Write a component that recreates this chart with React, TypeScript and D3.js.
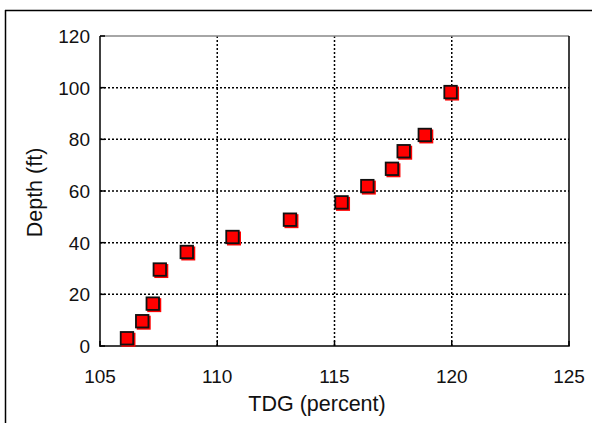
import React from "react";
import * as d3 from "d3";

const tdg = [106.15, 106.8, 107.25, 107.55, 108.7, 110.65, 113.1, 115.3, 116.4, 117.45, 117.95, 118.85, 119.95];
const depth = [3, 9.6, 16.4, 29.6, 36.4, 42.2, 48.9, 55.6, 61.9, 68.6, 75.4, 81.7, 98.3];
const xTicks = [105, 110, 115, 120, 125];
const yTicks = [0, 20, 40, 60, 80, 100, 120];
const xTitle = "TDG (percent)";
const yTitle = "Depth (ft)";

export default function App() {
  const W = 592, H = 423;
  const L = 100, R = 569, T = 36, B = 346;
  const x = d3.scaleLinear().domain([105, 125]).range([L, R]);
  const y = d3.scaleLinear().domain([0, 120]).range([B, T]);
  const font = "Liberation Sans, Arial, sans-serif";
  const s = 14;
  return (
    <svg width={W} height={H} style={{ position: "absolute", left: 0, top: 0 }}>
      <rect x={0} y={0} width={W} height={H} fill="#fff" />
      <line x1={5} y1={10.5} x2={W} y2={10.5} stroke="#000" strokeWidth={1.5} />
      <line x1={5.5} y1={10} x2={5.5} y2={H} stroke="#000" strokeWidth={1.5} />
      {/* grid */}
      {xTicks.slice(1, -1).map((t) => (
        <line key={"gx" + t} x1={x(t)} x2={x(t)} y1={T} y2={B} stroke="#000" strokeWidth={1.5} strokeDasharray="2,2" />
      ))}
      {yTicks.slice(1, -1).map((t) => (
        <line key={"gy" + t} x1={L} x2={R} y1={y(t)} y2={y(t)} stroke="#000" strokeWidth={1.5} strokeDasharray="2,2" />
      ))}
      {/* frame */}
      <line x1={L} x2={R} y1={T} y2={T} stroke="#888" strokeWidth={1.5} />
      <line x1={R} x2={R} y1={T} y2={B} stroke="#000" strokeWidth={1.5} />
      <line x1={L} x2={L} y1={T} y2={B + 1} stroke="#000" strokeWidth={1.5} />
      <line x1={L} x2={R + 0.75} y1={B} y2={B} stroke="#000" strokeWidth={1.5} />
      {/* ticks */}
      {xTicks.map((t) => (
        <g key={"xt" + t}>
          <line x1={x(t)} x2={x(t)} y1={B} y2={B - 5} stroke="#000" strokeWidth={1.5} />
          <text x={x(t)} y={383} textAnchor="middle" fontFamily={font} fontSize={19} fill="#111">{t}</text>
        </g>
      ))}
      {yTicks.map((t) => (
        <g key={"yt" + t}>
          <line x1={L} x2={L + 5} y1={y(t)} y2={y(t)} stroke="#000" strokeWidth={1.5} />
          <text x={90} y={y(t) + 7} textAnchor="end" fontFamily={font} fontSize={19} fill="#111">{t}</text>
        </g>
      ))}
      <text x={317} y={411} textAnchor="middle" fontFamily={font} fontSize={21.5} fill="#111">{xTitle}</text>
      <text transform={`translate(42,192.5) rotate(-90)`} textAnchor="middle" fontFamily={font} fontSize={21.5} fill="#111">{yTitle}</text>
      {/* markers */}
      {tdg.map((v, i) => (
        <g key={"m" + i}>
          <rect x={x(v) - s / 2 + 1.5} y={y(depth[i]) - s / 2 + 1.5} width={s} height={s} fill="#ff0000" />
          <rect x={x(v) - s / 2 + 0.75} y={y(depth[i]) - s / 2 + 0.75} width={s - 1.5} height={s - 1.5} fill="#ff0000" stroke="#111" strokeWidth={1.8} />
        </g>
      ))}
    </svg>
  );
}
